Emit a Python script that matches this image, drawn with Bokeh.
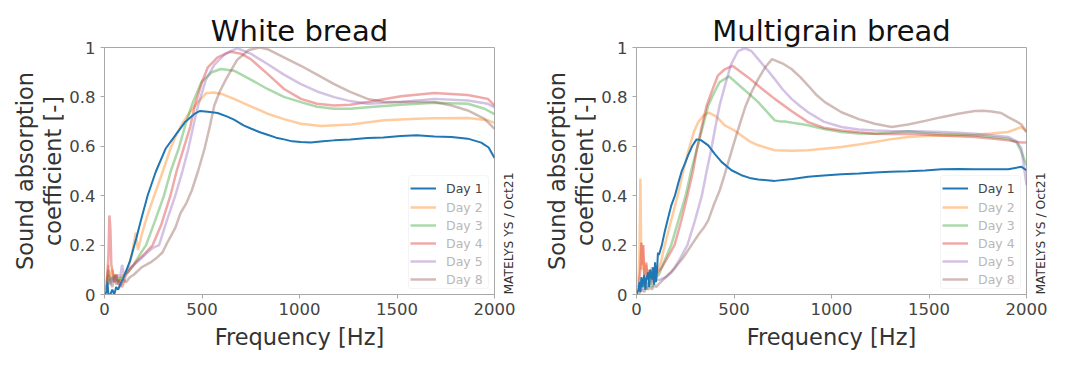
import math
from bokeh.plotting import figure
from bokeh.layouts import row
from bokeh.models import (Legend, LegendItem, Range1d, FixedTicker, LinearAxis,
                          CustomJSTickFormatter, BoxAnnotation)
from bokeh.embed import file_html
from bokeh.resources import INLINE

FONT = "DejaVu Sans"
LABELS = ["Day 1", "Day 2", "Day 3", "Day 4", "Day 5", "Day 8"]
COLORS = ["#1f77b4", "#ff7f0e", "#2ca02c", "#d62728", "#9467bd", "#8c564b"]
X_TICKS = [0, 500, 1000, 1500, 2000]
Y_TICKS = [0, 0.2, 0.4, 0.6, 0.8, 1]
CREDIT = "MATELYS YS / Oct21"

# ---------------- White bread ----------------
wb_d1_f = [0, 10, 15, 20, 30, 40, 50, 60, 70, 80, 97, 130, 163, 190, 222, 263, 313, 363, 413, 463, 490, 530, 580, 630, 664, 713, 750, 797, 836, 880, 921, 963, 1007, 1058, 1120, 1178, 1260, 1349, 1430, 1520, 1600, 1692, 1780, 1863, 1932, 1970, 2000]
wb_d1_v = [0, 0.01, 0.05, 0.0, 0.0, 0.02, 0.0, 0.03, 0.02, 0.04, 0.067, 0.134, 0.228, 0.31, 0.403, 0.497, 0.59, 0.644, 0.698, 0.732, 0.743, 0.74, 0.735, 0.72, 0.708, 0.685, 0.672, 0.657, 0.647, 0.635, 0.628, 0.62, 0.617, 0.615, 0.62, 0.624, 0.628, 0.634, 0.636, 0.642, 0.645, 0.64, 0.638, 0.631, 0.615, 0.595, 0.553]

wb_d2_f = [10, 20, 30, 40, 50, 60, 70, 80, 90, 100, 120, 140, 160, 172, 190, 220, 255, 300, 338, 370, 405, 440, 480, 522, 560, 600, 664, 750, 836, 920, 1007, 1110, 1264, 1435, 1600, 1692, 1863, 1966, 2000]
wb_d2_v = [0.05, 0.12, 0.06, 0.1, 0.07, 0.08, 0.05, 0.06, 0.08, 0.07, 0.1, 0.16, 0.25, 0.18, 0.24, 0.32, 0.4, 0.5, 0.59, 0.65, 0.7, 0.74, 0.78, 0.815, 0.818, 0.812, 0.792, 0.762, 0.732, 0.71, 0.691, 0.682, 0.688, 0.705, 0.712, 0.714, 0.715, 0.705, 0.695]

wb_d3_f = [10, 20, 30, 40, 50, 60, 70, 80, 90, 100, 120, 150, 180, 213, 260, 305, 340, 380, 420, 447, 497, 550, 597, 664, 750, 836, 920, 1007, 1090, 1178, 1260, 1349, 1520, 1692, 1863, 1949, 2000]
wb_d3_v = [0.03, 0.08, 0.05, 0.07, 0.06, 0.08, 0.05, 0.07, 0.06, 0.08, 0.09, 0.12, 0.16, 0.2, 0.3, 0.4, 0.5, 0.59, 0.7, 0.765, 0.86, 0.9, 0.913, 0.906, 0.87, 0.832, 0.8, 0.779, 0.76, 0.752, 0.752, 0.758, 0.768, 0.776, 0.772, 0.752, 0.73]

wb_d4_f = [10, 20, 25, 30, 35, 40, 50, 60, 70, 80, 90, 100, 110, 130, 160, 200, 247, 290, 338, 370, 405, 440, 463, 500, 530, 580, 647, 700, 750, 836, 921, 1007, 1090, 1178, 1260, 1349, 1520, 1692, 1863, 1966, 2000]
wb_d4_v = [0.02, 0.15, 0.32, 0.27, 0.12, 0.1, 0.05, 0.08, 0.04, 0.06, 0.03, 0.05, 0.08, 0.1, 0.13, 0.16, 0.2, 0.28, 0.4, 0.5, 0.59, 0.68, 0.765, 0.86, 0.92, 0.96, 0.983, 0.975, 0.953, 0.893, 0.832, 0.792, 0.772, 0.765, 0.768, 0.779, 0.803, 0.816, 0.808, 0.792, 0.765]

wb_d5_f = [10, 20, 30, 40, 50, 60, 70, 80, 90, 100, 120, 150, 180, 220, 250, 280, 320, 363, 400, 430, 455, 480, 520, 563, 620, 681, 750, 836, 920, 1007, 1090, 1178, 1260, 1349, 1520, 1692, 1863, 1966, 2000]
wb_d5_v = [0.02, 0.06, 0.04, 0.07, 0.05, 0.06, 0.08, 0.07, 0.12, 0.08, 0.1, 0.12, 0.14, 0.17, 0.19, 0.2, 0.3, 0.4, 0.5, 0.59, 0.68, 0.765, 0.87, 0.93, 0.975, 0.997, 0.975, 0.933, 0.89, 0.852, 0.822, 0.799, 0.783, 0.772, 0.779, 0.792, 0.785, 0.772, 0.758]

wb_d8_f = [10, 20, 30, 40, 50, 60, 70, 80, 90, 100, 110, 130, 150, 190, 236, 270, 297, 322, 363, 390, 420, 447, 480, 513, 540, 563, 590, 622, 680, 740, 797, 836, 920, 1007, 1090, 1178, 1260, 1349, 1430, 1520, 1692, 1780, 1863, 1949, 2000]
wb_d8_v = [0.01, 0.1, 0.05, 0.03, 0.08, 0.04, 0.06, 0.03, 0.05, 0.06, 0.05, 0.07, 0.08, 0.11, 0.13, 0.15, 0.17, 0.21, 0.27, 0.33, 0.37, 0.42, 0.5, 0.59, 0.68, 0.765, 0.82, 0.87, 0.95, 0.99, 1.0, 0.993, 0.96, 0.926, 0.89, 0.852, 0.82, 0.792, 0.78, 0.779, 0.779, 0.765, 0.745, 0.711, 0.671]

# ---------------- Multigrain bread ----------------
mg_d1_f = [0, 10, 15, 20, 25, 30, 40, 45, 50, 60, 65, 70, 80, 85, 90, 95, 100, 105, 110, 115, 130, 145, 162, 179, 197, 214, 231, 248, 265, 285, 308, 330, 368, 400, 436, 487, 538, 580, 624, 709, 800, 880, 960, 1051, 1140, 1222, 1300, 1393, 1480, 1564, 1650, 1735, 1820, 1906, 1974, 2000]
mg_d1_v = [0, 0.02, 0.05, 0.01, 0.07, 0.03, 0.08, 0.02, 0.06, 0.09, 0.03, 0.1, 0.06, 0.11, 0.04, 0.13, 0.05, 0.09, 0.17, 0.16, 0.2, 0.255, 0.31, 0.362, 0.4, 0.45, 0.497, 0.53, 0.564, 0.6, 0.628, 0.625, 0.604, 0.57, 0.537, 0.503, 0.483, 0.472, 0.466, 0.46, 0.468, 0.477, 0.482, 0.487, 0.49, 0.494, 0.497, 0.499, 0.502, 0.507, 0.508, 0.507, 0.507, 0.507, 0.517, 0.503]

mg_d2_f = [10, 15, 20, 25, 30, 40, 50, 60, 70, 80, 90, 100, 110, 125, 145, 178, 211, 240, 269, 295, 318, 345, 370, 410, 453, 500, 538, 580, 624, 709, 800, 880, 960, 1051, 1140, 1222, 1300, 1393, 1480, 1564, 1650, 1735, 1820, 1906, 1974, 2000]
mg_d2_v = [0.05, 0.15, 0.47, 0.1, 0.2, 0.08, 0.12, 0.06, 0.1, 0.05, 0.08, 0.1, 0.1, 0.13, 0.2, 0.3, 0.4, 0.5, 0.59, 0.66, 0.7, 0.725, 0.736, 0.72, 0.685, 0.665, 0.644, 0.62, 0.604, 0.584, 0.582, 0.584, 0.59, 0.597, 0.607, 0.617, 0.628, 0.638, 0.642, 0.644, 0.645, 0.647, 0.652, 0.658, 0.678, 0.66]

mg_d3_f = [10, 20, 30, 40, 50, 60, 70, 80, 90, 100, 115, 140, 178, 215, 252, 280, 310, 340, 368, 400, 426, 475, 538, 580, 624, 680, 709, 740, 761, 800, 880, 960, 1051, 1140, 1222, 1300, 1393, 1480, 1564, 1650, 1735, 1820, 1906, 1950, 1974, 2000]
mg_d3_v = [0.02, 0.04, 0.03, 0.05, 0.02, 0.04, 0.06, 0.03, 0.05, 0.07, 0.08, 0.13, 0.2, 0.3, 0.4, 0.5, 0.59, 0.68, 0.765, 0.82, 0.86, 0.883, 0.839, 0.81, 0.779, 0.73, 0.705, 0.7, 0.7, 0.695, 0.685, 0.67, 0.658, 0.652, 0.651, 0.655, 0.661, 0.655, 0.651, 0.648, 0.644, 0.638, 0.631, 0.615, 0.577, 0.523]

mg_d4_f = [10, 20, 25, 30, 35, 40, 50, 55, 60, 70, 80, 90, 100, 110, 130, 160, 195, 230, 261, 290, 310, 335, 360, 390, 417, 450, 492, 573, 640, 709, 800, 880, 960, 1051, 1140, 1222, 1300, 1393, 1480, 1564, 1650, 1735, 1820, 1906, 1974, 2000]
mg_d4_v = [0.03, 0.1, 0.21, 0.12, 0.2, 0.08, 0.13, 0.06, 0.1, 0.07, 0.11, 0.05, 0.08, 0.09, 0.11, 0.15, 0.2, 0.3, 0.4, 0.5, 0.59, 0.68, 0.765, 0.83, 0.886, 0.91, 0.926, 0.879, 0.835, 0.792, 0.74, 0.698, 0.675, 0.664, 0.657, 0.651, 0.65, 0.651, 0.648, 0.644, 0.641, 0.638, 0.632, 0.624, 0.615, 0.615]

mg_d5_f = [10, 20, 30, 40, 50, 60, 70, 80, 90, 100, 120, 150, 180, 220, 261, 300, 335, 360, 384, 405, 426, 455, 484, 520, 556, 590, 624, 670, 709, 750, 795, 840, 880, 960, 1051, 1140, 1222, 1300, 1393, 1480, 1564, 1650, 1735, 1820, 1906, 1950, 1974, 2000]
mg_d5_v = [0.01, 0.03, 0.02, 0.04, 0.03, 0.05, 0.04, 0.06, 0.05, 0.06, 0.06, 0.07, 0.09, 0.14, 0.2, 0.3, 0.4, 0.5, 0.59, 0.68, 0.765, 0.85, 0.93, 0.985, 0.997, 0.985, 0.953, 0.91, 0.872, 0.83, 0.792, 0.762, 0.738, 0.7, 0.678, 0.668, 0.664, 0.662, 0.661, 0.66, 0.658, 0.655, 0.651, 0.645, 0.638, 0.62, 0.591, 0.443]

mg_d8_f = [10, 20, 30, 40, 50, 60, 70, 80, 90, 100, 111, 150, 197, 240, 282, 320, 345, 368, 395, 426, 450, 480, 510, 538, 558, 590, 624, 660, 695, 750, 795, 840, 880, 920, 966, 1051, 1140, 1222, 1308, 1393, 1480, 1564, 1650, 1735, 1780, 1821, 1870, 1906, 1950, 1974, 2000]
mg_d8_v = [0.0, 0.01, 0.02, 0.01, 0.03, 0.02, 0.03, 0.02, 0.04, 0.03, 0.04, 0.07, 0.107, 0.15, 0.2, 0.245, 0.27, 0.3, 0.36, 0.42, 0.48, 0.56, 0.64, 0.71, 0.76, 0.82, 0.872, 0.92, 0.953, 0.935, 0.913, 0.88, 0.846, 0.81, 0.779, 0.738, 0.71, 0.691, 0.678, 0.688, 0.703, 0.718, 0.732, 0.743, 0.744, 0.741, 0.735, 0.718, 0.7, 0.688, 0.658]

WHITE = [(wb_d1_f, wb_d1_v), (wb_d2_f, wb_d2_v), (wb_d3_f, wb_d3_v),
         (wb_d4_f, wb_d4_v), (wb_d5_f, wb_d5_v), (wb_d8_f, wb_d8_v)]
MULTI = [(mg_d1_f, mg_d1_v), (mg_d2_f, mg_d2_v), (mg_d3_f, mg_d3_v),
         (mg_d4_f, mg_d4_v), (mg_d5_f, mg_d5_v), (mg_d8_f, mg_d8_v)]

FIG_W, FIG_H = 532, 352
BORDER_L, BORDER_R, BORDER_T, BORDER_B = 104, 38, 47, 56
FRAME_W = FIG_W - BORDER_L - BORDER_R
FRAME_H = FIG_H - BORDER_T - BORDER_B
X_MAX, Y_MAX = 2000, 1


def px_x(px):
    return px / FRAME_W * X_MAX


def px_y(px):
    return px / FRAME_H * Y_MAX


def make(title, series):
    p = figure(width=FIG_W, height=FIG_H, output_backend="svg",
               toolbar_location=None,
               x_range=Range1d(0, X_MAX), y_range=Range1d(0, Y_MAX),
               min_border_left=BORDER_L, min_border_right=BORDER_R,
               min_border_top=BORDER_T, min_border_bottom=BORDER_B)
    p.title.text = title
    p.title.text_font = FONT
    p.title.text_font_size = "29px"
    p.title.text_font_style = "normal"
    p.title.text_color = "#111111"
    p.title.align = "center"
    p.title.offset = 3
    p.title.standoff = 0
    p.grid.visible = False
    p.outline_line_color = "#a8a8a8"
    p.outline_line_width = 1
    p.background_fill_color = "white"
    p.border_fill_color = "white"

    for ax in (p.xaxis, p.yaxis):
        ax.axis_line_color = "#a8a8a8"
        ax.major_tick_line_color = "#a8a8a8"
        ax.major_tick_out = 4
        ax.major_tick_in = 0
        ax.minor_tick_line_color = None
        ax.major_label_text_font = FONT
        ax.major_label_text_font_size = "16.5px"
        ax.major_label_text_color = "#444444"
        ax.axis_label_text_font = FONT
        ax.axis_label_text_font_size = "22.5px"
        ax.axis_label_text_font_style = "normal"
        ax.axis_label_text_color = "#333333"
    p.xaxis.ticker = FixedTicker(ticks=X_TICKS)
    p.yaxis.ticker = FixedTicker(ticks=Y_TICKS)
    p.yaxis.formatter = CustomJSTickFormatter(code="return String(Number(tick.toFixed(1)));")
    p.xaxis.axis_label = "Frequency [Hz]"
    p.yaxis.axis_label = "Sound absorption\ncoefficient [-]"
    p.yaxis.axis_label_text_line_height = 1.1
    p.xaxis.major_label_standoff = 4
    p.yaxis.major_label_standoff = 5
    p.xaxis.axis_label_standoff = 6
    p.yaxis.axis_label_standoff = 0

    rmap = {}
    for i in [1, 2, 3, 4, 5, 0]:
        f, v = series[i]
        if i == 0:
            rmap[i] = p.line(f, v, line_color=COLORS[i], line_width=2.0, line_alpha=1.0)
        else:
            rmap[i] = p.line(f, v, line_color=COLORS[i], line_width=2.5, line_alpha=0.4)
    renderers = [rmap[i] for i in range(6)]

    # legend frame (pixel offsets from the frame's bottom-left corner)
    box_l, box_r, box_b, box_t = FRAME_W - 86, FRAME_W - 6, 6, 120
    p.add_layout(BoxAnnotation(left=px_x(box_l), right=px_x(box_r),
                               bottom=px_y(box_b), top=px_y(box_t),
                               fill_color="white", fill_alpha=0.8,
                               line_color="#dcdcdc", line_width=1,
                               border_radius=3))

    common = dict(label_text_font=FONT, label_text_font_size="12.5px",
                  label_height=18, glyph_height=18, glyph_width=26,
                  label_standoff=10, spacing=0, margin=0, padding=3,
                  border_line_color=None, background_fill_alpha=0.0)
    leg_rest = Legend(items=[LegendItem(label=LABELS[i], renderers=[renderers[i]]) for i in range(1, 6)],
                      location=(box_l + 2, 6), label_text_color="#b8b8b8", **common)
    leg_one = Legend(items=[LegendItem(label=LABELS[0], renderers=[renderers[0]])],
                     location=(box_l + 2, 97), label_text_color="#444444", **common)
    p.add_layout(leg_rest)
    p.add_layout(leg_one)

    # credit text on the right side, starting at the frame bottom, reading upward
    credit = LinearAxis(ticker=FixedTicker(ticks=[0]),
                        formatter=CustomJSTickFormatter(args=dict(t=CREDIT), code="return t;"),
                        axis_line_color=None, major_tick_line_color=None,
                        minor_tick_line_color=None,
                        major_tick_out=0, major_tick_in=0,
                        major_label_standoff=14,
                        major_label_orientation=math.pi / 2,
                        major_label_text_font=FONT,
                        major_label_text_font_size="12.3px",
                        major_label_text_color="#333333")
    p.add_layout(credit, "right")
    return p


p1 = make("White bread", WHITE)
p2 = make("Multigrain bread", MULTI)
layout = row(p1, p2)
open("out.html", "w").write(file_html(layout, INLINE))
